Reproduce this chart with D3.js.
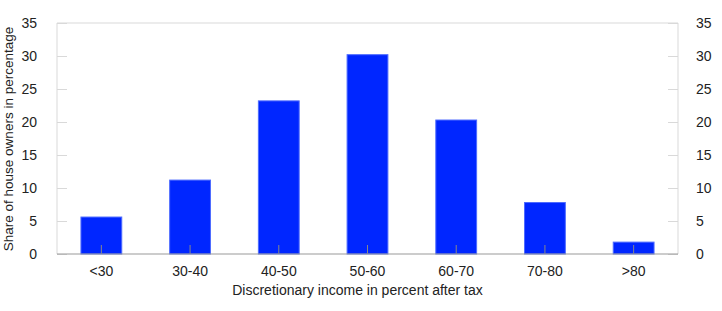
<!DOCTYPE html>
<html>
<head>
<meta charset="utf-8">
<script src="https://cdn.jsdelivr.net/npm/d3@7"></script>
<style>
  body { margin: 0; background: #fff; }
  text { font-family: "Liberation Sans", Arial, sans-serif; fill: #222; }
</style>
</head>
<body>
<div id="chart"></div>
<script>
// data
var categories = ['<30', '30-40', '40-50', '50-60', '60-70', '70-80', '>80'];
var shares = [5.6, 11.2, 23.2, 30.2, 20.3, 7.8, 1.8];
var yTicks = [0, 5, 10, 15, 20, 25, 30, 35];

var W = 722, H = 311;
var m = {left: 57, right: 44, top: 23, bottom: 57};
var pw = W - m.left - m.right, ph = H - m.top - m.bottom;
var font = '"Liberation Sans", Arial, sans-serif';

var svg = d3.select('#chart').append('svg').attr('width', W).attr('height', H);
var g = svg.append('g').attr('transform', 'translate(' + m.left + ',' + m.top + ')');

var x = d3.scaleBand().domain(categories).range([0, pw]).paddingInner(0.54).paddingOuter(0.27);
var y = d3.scaleLinear().domain([0, 35]).range([ph, 0]);

// frame
g.append('line').attr('x1', 0).attr('x2', pw).attr('y1', 0).attr('y2', 0).attr('stroke', '#d9d9d9');
g.append('line').attr('x1', 0).attr('x2', 0).attr('y1', 0).attr('y2', ph).attr('stroke', '#d9d9d9');
g.append('line').attr('x1', pw).attr('x2', pw).attr('y1', 0).attr('y2', ph).attr('stroke', '#d9d9d9');

// bars
g.selectAll('.bar').data(shares).enter().append('rect')
  .attr('class', 'bar')
  .attr('x', function(d, i) { return x(categories[i]); })
  .attr('width', x.bandwidth())
  .attr('y', function(d) { return y(d); })
  .attr('height', function(d) { return ph - y(d); })
  .attr('fill', '#0026ff')
  .attr('stroke', '#4d6bff')
  .attr('stroke-width', 1);

// y axes (ticks pointing inward)
var left = g.append('g').call(d3.axisLeft(y).tickValues(yTicks).tickSize(-10).tickPadding(20));
var right = g.append('g').attr('transform', 'translate(' + pw + ',0)')
  .call(d3.axisRight(y).tickValues(yTicks).tickSize(-10).tickPadding(18));
[left, right].forEach(function(a) {
  a.select('.domain').remove();
  a.selectAll('line').attr('stroke', '#d9d9d9');
  a.selectAll('text').attr('font-size', 14).style('font-family', font).attr('fill', '#222');
});
right.selectAll('text').attr('text-anchor', 'start');

// x axis
var xa = g.append('g').attr('transform', 'translate(0,' + ph + ')')
  .call(d3.axisBottom(x).tickSize(-9).tickPadding(12));
xa.select('.domain').attr('stroke', '#999').attr('d', 'M0,0H' + pw);
xa.selectAll('line').attr('stroke', '#888');
xa.selectAll('text').attr('font-size', 14).style('font-family', font).attr('fill', '#222');

// axis titles
svg.append('text').attr('x', m.left + pw / 2 - 10).attr('y', 295)
  .attr('text-anchor', 'middle').attr('font-size', 14)
  .text('Discretionary income in percent after tax');
svg.append('text').attr('transform', 'translate(12.5,139) rotate(-90)')
  .attr('text-anchor', 'middle').attr('font-size', 13.5)
  .text('Share of house owners in percentage');
</script>
</body>
</html>
